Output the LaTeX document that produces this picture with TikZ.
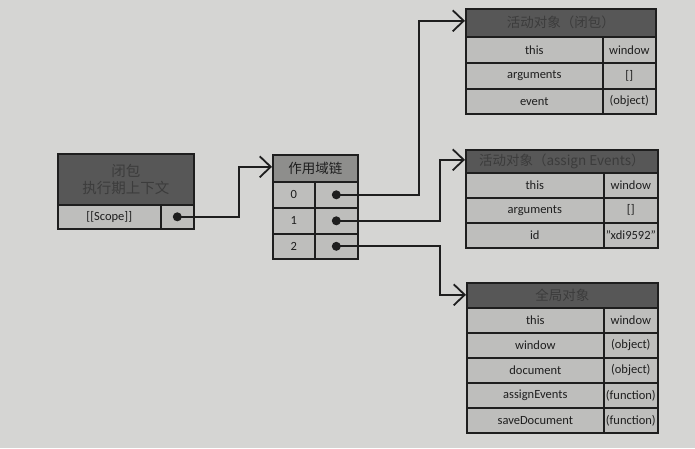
\documentclass[tikz,border=0pt]{standalone}
\usepackage{fontspec}
\setmainfont{Carlito}
\newfontfamily\cjk{Noto Sans CJK SC}
\usetikzlibrary{arrows.meta}
\definecolor{bg}{HTML}{D5D5D3}
\definecolor{cellg}{HTML}{BEBEBC}
\definecolor{headdark}{HTML}{575757}
\definecolor{headtxt}{HTML}{3C3C3C}
\definecolor{headmid}{HTML}{8E8E8C}
\definecolor{ink}{HTML}{1E1E1E}
\tikzset{
  cellbox/.style={draw=ink, line width=1.6pt, fill=cellg, inner sep=0pt, anchor=north west, text=ink, font=\fontsize{12.5}{14}\selectfont},
  darkhead/.style={cellbox, fill=headdark, text=headtxt, font=\cjk\fontsize{13.5}{15}\selectfont},
  midhead/.style={cellbox, fill=headmid, text=ink, font=\cjk\fontsize{13.5}{15}\selectfont},
  dotnode/.style={circle, fill=ink, inner sep=0pt, minimum size=9pt},
  conn/.style={draw=ink, line width=1.8pt},
  arr/.style={conn, -{Straight Barb[length=11pt,width=21pt,line width=1.8pt]}}
}
\newcommand{\cellat}[7][cellbox]{\node[#1, minimum width=#5pt, minimum height=#6pt] (#2) at (#3,#4) {#7};}
\begin{document}
\begin{tikzpicture}[x=1pt,y=-1pt]
\fill[bg] (0,0) rectangle (695,448);
\useasboundingbox (0,0) rectangle (695,448);

% closure context
\cellat[darkhead, font=\cjk\fontsize{14.5}{18}\selectfont]{ch}{57}{153}{136}{51}{\shortstack{闭包\\执行期上下文}}
\cellat{cs}{57}{204}{103}{24}{[[Scope]]}
\cellat{cd}{160}{204}{33}{24}{}
\node[dotnode] (dc) at (cd.center) {};

% scope chain
\cellat[midhead]{sh}{272}{154}{85}{27}{作用域链}
\cellat{s0}{272}{181}{42}{26}{0}
\cellat{t0}{314}{181}{43}{26}{}
\cellat{s1}{272}{207}{42}{26}{1}
\cellat{t1}{314}{207}{43}{26}{}
\cellat{s2}{272}{233}{42}{25}{2}
\cellat{t2}{314}{233}{43}{25}{}
\node[dotnode] (d0) at (t0.center) {};
\node[dotnode] (d1) at (t1.center) {};
\node[dotnode] (d2) at (t2.center) {};

% activation object (closure)
\cellat[darkhead]{ah}{465}{8}{190}{28}{活动对象（闭包）}
\cellat{a1l}{465}{36}{137}{26}{this}
\cellat{a1r}{602}{36}{53}{26}{window}
\cellat{a2l}{465}{62}{137}{26}{arguments}
\cellat{a2r}{602}{62}{53}{26}{[]}
\cellat{a3l}{465}{88}{137}{25}{event}
\cellat{a3r}{602}{88}{53}{25}{(object)}

% activation object (assignEvents)
\cellat[darkhead]{bh}{465}{149}{192}{23}{活动对象（assign Events）}
\cellat{b1l}{465}{172}{138}{25}{this}
\cellat{b1r}{603}{172}{54}{25}{window}
\cellat{b2l}{465}{197}{138}{25}{arguments}
\cellat{b2r}{603}{197}{54}{25}{[]}
\cellat{b3l}{465}{222}{138}{25}{id}
\cellat{b3r}{603}{222}{54}{25}{\char"22 xdi9592\char"22}

% global object
\cellat[darkhead]{gh}{466}{282}{191}{25}{全局对象}
\cellat{g1l}{466}{307}{137}{25}{this}
\cellat{g1r}{603}{307}{54}{25}{window}
\cellat{g2l}{466}{332}{137}{25}{window}
\cellat{g2r}{603}{332}{54}{25}{(object)}
\cellat{g3l}{466}{357}{137}{25}{document}
\cellat{g3r}{603}{357}{54}{25}{(object)}
\cellat{g4l}{466}{382}{137}{25}{assignEvents}
\cellat{g4r}{603}{382}{54}{25}{(function)}
\cellat{g5l}{466}{407}{137}{25}{saveDocument}
\cellat{g5r}{603}{407}{54}{25}{(function)}

% connectors
\coordinate (kc) at (239,0);
\coordinate (k0) at (419,0);
\coordinate (k1) at (440,0);
\draw[arr] (dc.center) -- (dc.center -| kc) |- ([yshift=1.5pt]sh.west);
\draw[arr] (d0.center) -- (d0.center -| k0) |- ([yshift=2pt]ah.west);
\draw[arr] (d1.center) -- (d1.center -| k1) |- ([yshift=1.5pt]bh.west);
\draw[arr] (d2.center) -- (d2.center -| k1) |- ([yshift=0.5pt]gh.west);
\end{tikzpicture}
\end{document}
